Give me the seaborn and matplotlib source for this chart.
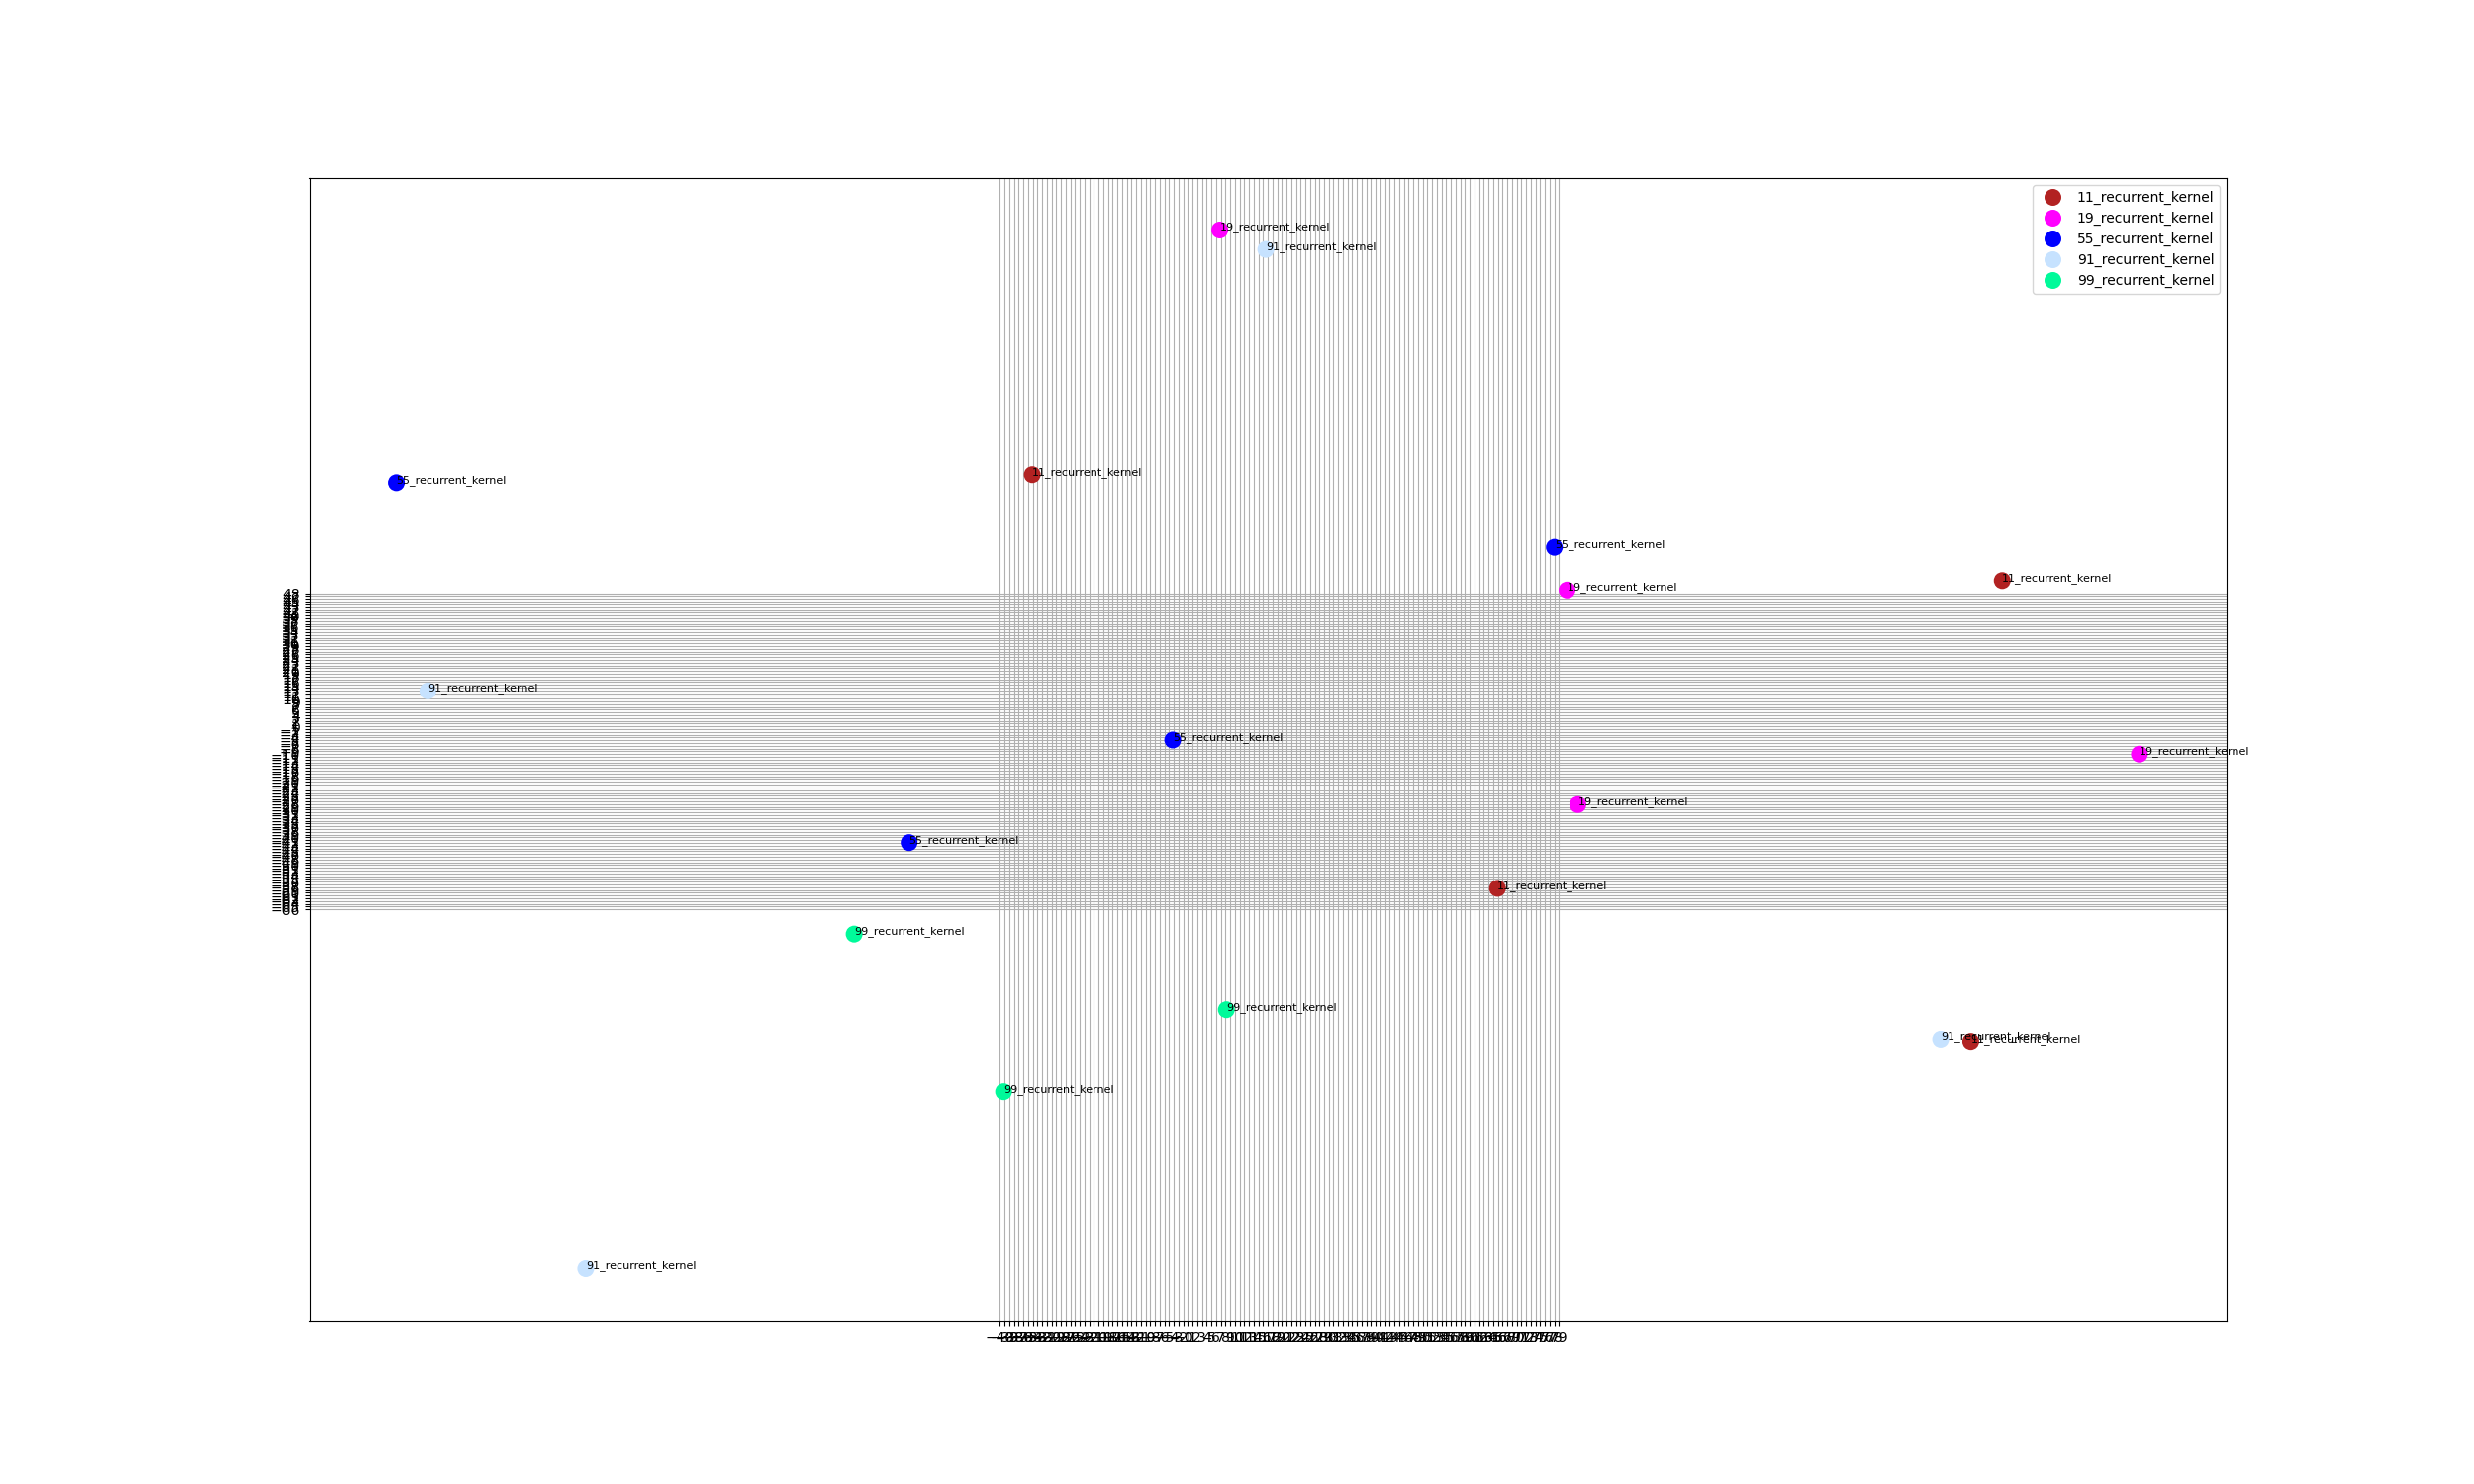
import pandas as pd
import matplotlib
matplotlib.use("Agg")
import matplotlib.pyplot as plt
import seaborn as sns

# Punkte (2D-Einbettung) je Kernel
labels = ["11_recurrent_kernel"] * 4 + ["19_recurrent_kernel"] * 4 + \
         ["55_recurrent_kernel"] * 4 + ["91_recurrent_kernel"] * 4 + \
         ["99_recurrent_kernel"] * 3
x = [-33.1, 173.3, 65.9, 166.6,
     6.8, 80.7, 202.5, 83.0,
     -168.4, 78.0, -3.2, -59.3,
     16.6, -161.7, 160.2, -128.1,
     -71.0, 8.2, -39.2]
y = [90.8, 52.6, -58.4, -113.6,
     179.0, 49.2, -10.0, -28.2,
     87.9, 64.6, -4.9, -41.9,
     172.0, 12.8, -112.8, -195.6,
     -74.9, -102.2, -131.8]

palette = {
    "11_recurrent_kernel": "#b22222",
    "19_recurrent_kernel": "#ff00ff",
    "55_recurrent_kernel": "#0000ff",
    "91_recurrent_kernel": "#c6e2ff",
    "99_recurrent_kernel": "#00fa9a",
}

xtick_vals = list(range(-40, 80))
ytick_vals = list(range(-66, 49))

df = pd.DataFrame({"x": x, "y": y, "kernel": labels})

# Plot
plt.figure(figsize=(25, 15), dpi=100)
ax = sns.scatterplot(data=df, x="x", y="y", hue="kernel", palette=palette,
                     hue_order=list(palette.keys()), s=150, edgecolor="none")
for i in range(len(df)):
    plt.annotate(df["kernel"][i], (df["x"][i], df["y"][i]), fontsize=8)

plt.xticks(xtick_vals)
plt.yticks(ytick_vals)
ax.set_axisbelow(True)
plt.grid(True)
plt.xlabel("")
plt.ylabel("")
plt.legend(loc="upper right")
plt.savefig("out.png", dpi=100)
